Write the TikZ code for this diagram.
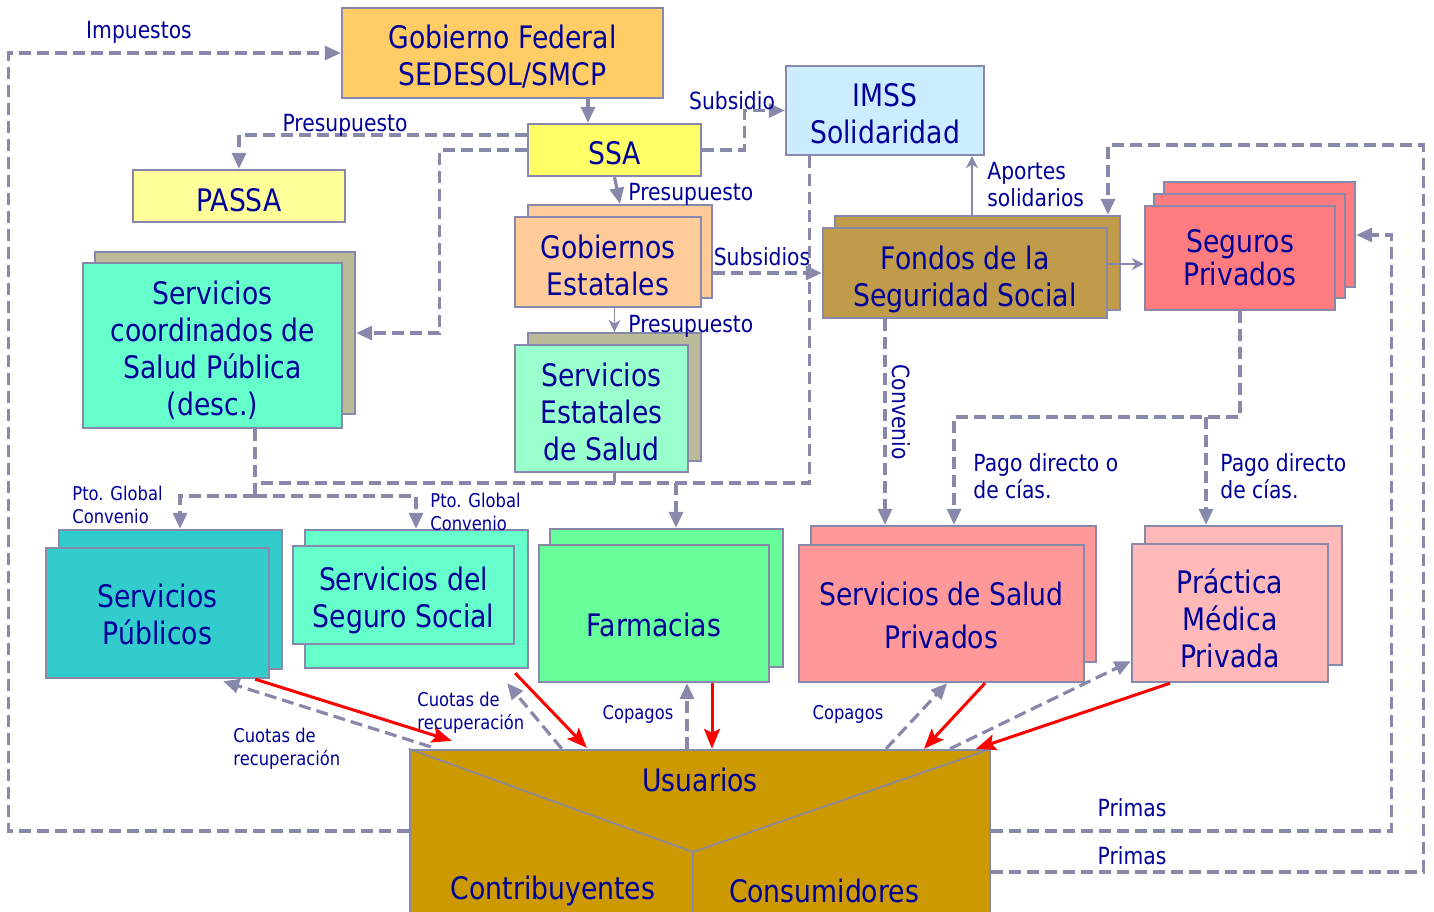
\documentclass[tikz,border=0pt]{standalone}
\usepackage{fontspec}
\setmainfont{DejaVu Sans}[FakeStretch=0.86]
\usetikzlibrary{arrows.meta}
\definecolor{edge}{RGB}{136,136,170}
\definecolor{ink}{RGB}{0,0,153}
\definecolor{fedcol}{RGB}{255,204,102}
\definecolor{imsscol}{RGB}{204,236,255}
\definecolor{ssacol}{RGB}{255,255,102}
\definecolor{passacol}{RGB}{255,255,153}
\definecolor{khakicol}{RGB}{187,187,153}
\definecolor{aquacol}{RGB}{102,255,204}
\definecolor{peachcol}{RGB}{255,204,153}
\definecolor{mintcol}{RGB}{153,255,204}
\definecolor{fondocol}{RGB}{191,155,74}
\definecolor{segcol}{RGB}{255,124,128}
\definecolor{pubcol}{RGB}{51,204,204}
\definecolor{farmcol}{RGB}{102,255,153}
\definecolor{privcol}{RGB}{255,153,153}
\definecolor{praccol}{RGB}{255,185,185}
\definecolor{usucol}{RGB}{204,153,0}
\newcommand{\boxfont}{\fontsize{15.5}{18.5}\selectfont}
\newcommand{\lblfont}{\fontsize{11.8}{13.5}\selectfont}
\newcommand{\smlfont}{\fontsize{9.5}{11.5}\selectfont}
\tikzset{
  box/.style={draw=edge, line width=1.2pt, inner sep=0pt},
  boxtext/.style={text=ink, font=\boxfont, align=center, inner sep=0pt},
  lbl/.style={text=ink, font=\lblfont, align=left, inner sep=0pt},
  sml/.style={text=ink, font=\smlfont, align=left, inner sep=0pt},
  dashline/.style={draw=edge, line width=1.6pt, dash pattern=on 6pt off 3pt},
  flow/.style={dashline, -{Triangle[length=8pt,width=7pt]}},
  thinarrow/.style={draw=edge, line width=0.8pt, -{Stealth[length=6pt,width=6pt]}},
  payarrow/.style={draw=red, line width=1.5pt, -{Stealth[length=10pt,width=8pt,inset=2pt]}}
}
\newcommand{\backpanel}[6]{\node[box, fill=#6, minimum width={(#4-#2)*0.5pt}, minimum height={(#5-#3)*0.5pt}] (#1) at ({(#2+#4)/2},{(#3+#5)/2}) {};}
\newcommand{\panel}[8][-1.5pt]{\backpanel{#2}{#3}{#4}{#5}{#6}{#8}
  \node[boxtext] (#2txt) at ([yshift=#1]#2.center) {#7};}

\begin{document}
\begin{tikzpicture}[x=0.5pt, y=-0.5pt]
\useasboundingbox (0,0) rectangle (1434,911);
\panel[-2pt]{gobfed}{342}{8}{663}{98}{Gobierno Federal\\SEDESOL/SMCP}{fedcol}
\panel{imss}{786}{66}{984}{155}{IMSS\\Solidaridad}{imsscol}
\panel{ssa}{528}{124}{701}{176}{SSA}{ssacol}
\panel[-2pt]{passa}{133}{170}{345}{222}{PASSA}{passacol}
\backpanel{coordback}{95}{252}{355}{414}{khakicol}
\panel[-2.5pt]{coord}{83}{263}{342}{428}{Servicios\\coordinados de\\Salud Pública\\(desc.)}{aquacol}
\backpanel{gobestback}{528}{205}{712}{298}{peachcol}
\panel{gobest}{515}{217}{701}{307}{Gobiernos\\Estatales}{peachcol}
\backpanel{servestback}{528}{333}{701}{461}{khakicol}
\panel{servest}{515}{345}{688}{472}{Servicios\\Estatales\\de Salud}{mintcol}
\backpanel{fondosback}{835}{216}{1120}{310}{fondocol}
\panel[-3pt]{fondos}{823}{228}{1107}{318}{Fondos de la\\Seguridad Social}{fondocol}
\backpanel{segurosback}{1164}{182}{1355}{287}{segcol}
\backpanel{segurosmid}{1154}{194}{1345}{298}{segcol}
\panel[0pt]{seguros}{1145}{206}{1335}{310}{Seguros\\[-2pt]Privados}{segcol}
\backpanel{servpubback}{59}{530}{282}{669}{pubcol}
\panel[-0.5pt]{servpub}{46}{548}{269}{678}{Servicios\\Públicos}{pubcol}
\backpanel{segsocback}{305}{530}{528}{668}{aquacol}
\panel[-2.5pt]{segsoc}{293}{546}{514}{644}{Servicios del\\Seguro Social}{aquacol}
\backpanel{farmback}{550}{529}{783}{667}{farmcol}
\panel[-5.5pt]{farm}{539}{545}{769}{682}{Farmacias}{farmcol}
\backpanel{servprivback}{811}{526}{1096}{662}{privcol}
\panel[-0.75pt]{servpriv}{799}{545}{1084}{682}{Servicios de Salud\\[3pt]Privados}{privcol}
\backpanel{practicaback}{1145}{526}{1342}{665}{praccol}
\panel[-2.75pt]{practica}{1132}{544}{1328}{682}{Práctica\\Médica\\Privada}{praccol}
\backpanel{usuarios}{410}{750}{990}{930}{usucol}
\draw[edge, line width=0.8pt] (usuarios.north west) -- (693,852) coordinate (vee) -- (usuarios.north east);
\draw[edge, line width=0.8pt] (vee) -- (vee |- usuarios.south);
\node[boxtext] (usutxt) at (700,780) {Usuarios};
\node[boxtext] (contrib) at (553,891) {Contribuyentes};
\node[boxtext] (consum) at (824,891) {Consumidores};

\draw[flow] ([yshift=4.5pt]usuarios.west) -- ++(-400,0) |- (gobfed.west);
\draw[flow] (gobfed.south -| 588,0) -- (ssa.north -| 588,0);
\draw[flow] ([yshift=7.5pt]ssa.west) -| (passa.north);
\draw[flow] (ssa.west) -- ++(-87,0) |- (coordback.east);
\draw[flow] (ssa.east) -- ++(42,0) |- (imss.west);
\draw[flow, solid] (ssa.south) -- (gobestback.north);
\draw[thinarrow] (gobest.south -| servestback.north) -- (servestback.north);
\draw[flow] (fondos.west -| gobestback.east) -- (fondos.west);
\draw[thinarrow] (fondosback.north -| 972,0) -- (imss.south -| 972,0);
\draw[thinarrow] (fondos.east |- 0,264) -- (seguros.west |- 0,264);
\draw[dashline] ([xshift=12.5pt]imss.south west) |- (255,483);
\draw[dashline] (servestback.south |- servest.south) -- (servestback.south |- 0,483);
\draw[flow] (676,483) -- (farmback.north -| 676,0);
\draw[dashline] (coord.south -| 255,0) -- (255,496);
\draw[flow] (255,496) -| (servpubback.north -| 180,0);
\draw[flow] (255,496) -| (segsocback.north -| 416,0);
\draw[flow] (fondos.south -| 885,0) -- (servprivback.north -| 885,0);
\draw[flow] ([yshift=-16pt]usuarios.east) -- ++(432,0) |- (1108,145) -- (fondosback.north -| 1108,0);
\draw[flow] ([yshift=4.5pt]usuarios.east) -- ++(400,0) |- (segurosback.east |- 0,235);
\draw[flow] (seguros.south) |- (954,417) -- (servprivback.north -| 954,0);
\draw[flow] (1206,417) -- (practicaback.north -| 1206,0);

\draw[payarrow] ([xshift=-7.5pt]servpub.south east) -- ([shift={(21.5pt,4pt)}]usuarios.north west);
\draw[flow] ([shift={(11pt,1pt)}]usuarios.north west) -- ([shift={(-23.5pt,-1pt)}]servpub.south east);
\draw[payarrow] ([shift={(-7pt,-2pt)}]segsocback.south east) -- ([shift={(89pt,0.5pt)}]usuarios.north west);
\draw[flow] ([xshift=76.5pt]usuarios.north west) -- ([shift={(-11pt,-7pt)}]segsocback.south east);
\draw[flow] (usuarios.north -| 687,0) -- (farm.south -| 687,0);
\draw[payarrow] (farm.south -| 712,0) -- (usuarios.north -| 712,0);
\draw[flow] (usuarios.north -| 886,0) -- (servpriv.south -| 947,0);
\draw[payarrow] (servpriv.south -| 985,0) -- (usuarios.north -| 924,0);
\draw[flow] (usuarios.north -| 950,0) -- ([yshift=11pt]practica.south west);
\draw[payarrow] (practica.south -| 1170,0) -- (usuarios.north -| 976,0);

\node[lbl] (impuestos) at (139,32) {Impuestos};
\node[lbl] (presup1) at (345,125) {Presupuesto};
\node[lbl] (subsidio) at (732,101) {Subsidio};
\node[lbl, anchor=west] (presup2) at (628,194) {Presupuesto};
\node[lbl, anchor=west] (presup3) at (628,326) {Presupuesto};
\node[lbl] (subsidios) at (762,257) {Subsidios};
\node[lbl, anchor=west] (aportes) at (987,185) {Aportes\\solidarios};
\node[lbl, rotate=-90] (convenio) at (901,412) {Convenio};
\node[sml, anchor=west] (ptoglobal1) at (72,505) {Pto. Global\\Convenio};
\node[sml, anchor=west] (ptoglobal2) at (430,512) {Pto. Global\\Convenio};
\node[lbl, anchor=west] (pago1) at (973,476) {Pago directo o\\de cías.};
\node[lbl, anchor=west] (pago2) at (1220,476) {Pago directo\\de cías.};
\node[sml, anchor=west] (cuotas1) at (233,749) {Cuotas de\\recuperación};
\node[sml, anchor=west] (cuotas2) at (417,713) {Cuotas de\\recuperación};
\foreach \x/\n in {638/1, 848/2} \node[sml] (copagos\n) at (\x,714) {Copagos};
\foreach \y/\n in {808/1, 856/2} \node[lbl] (primas\n) at (1132,\y) {Primas};
\end{tikzpicture}
\end{document}
